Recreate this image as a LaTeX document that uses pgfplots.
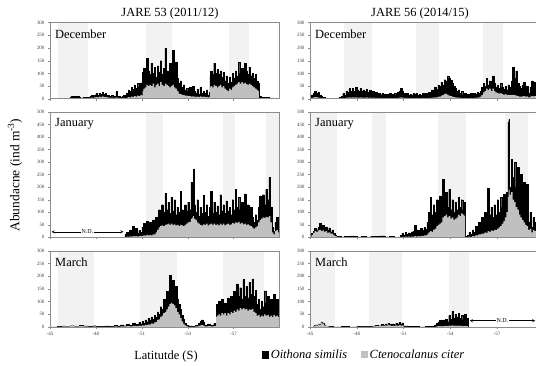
\documentclass[border=0pt]{standalone}
\usepackage{fontspec}
\setmainfont{Liberation Serif}
\usepackage{pgfplots}
\usepackage{pgfplotstable}
\pgfplotsset{compat=1.18}
\definecolor{band}{HTML}{F2F2F2}
\definecolor{cgray}{HTML}{C0C0C0}
\definecolor{frame}{HTML}{8C8C8C}

% columns: latitude (S), total abundance (O. similis + C. citer), C. citer
\pgfplotstableread{
x t g
45.0 0 0
46.2 0 0
46.3 4 0
46.4 8 1
46.5 6 1
46.6 10 2
46.7 7 1
46.8 9 2
46.9 4 0
47.0 3 0
47.2 5 1
47.4 4 1
47.6 10 3
47.7 12 4
47.8 8 3
47.9 15 5
48.0 20 6
48.1 14 5
48.2 22 8
48.3 18 6
48.4 25 9
48.5 16 6
48.6 20 7
48.7 12 5
48.8 14 4
48.9 10 3
49.0 12 4
49.1 8 3
49.2 10 3
49.3 28 5
49.4 8 3
49.5 10 3
49.6 6 2
49.7 9 3
49.8 12 3
49.9 8 2
50.0 20 4
50.1 35 6
50.2 28 5
50.3 45 8
50.4 38 7
50.5 55 10
50.6 42 8
50.7 60 12
50.8 48 10
50.9 62 14
51.0 40 12
51.05 105 30
51.1 120 40
51.2 90 45
51.3 160 55
51.4 110 50
51.5 95 55
51.6 140 50
51.7 100 60
51.8 125 45
51.9 85 55
52.0 130 60
52.1 105 50
52.2 150 65
52.3 95 55
52.4 120 50
52.5 200 60
52.6 110 55
52.7 90 50
52.8 140 45
52.9 100 50
53.0 190 55
53.1 120 45
53.2 145 40
53.3 80 30
53.4 60 20
53.5 70 18
53.6 45 15
53.7 55 14
53.8 35 12
53.9 40 12
54.0 30 10
54.1 45 10
54.2 25 8
54.3 50 9
54.4 30 8
54.5 20 7
54.6 38 8
54.7 18 6
54.8 45 9
54.9 22 7
55.0 30 8
55.1 20 6
55.2 35 7
55.3 15 5
55.4 25 6
55.45 90 45
55.5 110 50
55.6 95 45
55.7 140 55
55.8 100 50
55.9 115 45
56.0 95 50
56.1 110 55
56.2 85 45
56.3 105 50
56.4 70 40
56.5 90 35
56.6 60 30
56.7 85 40
56.8 65 35
56.9 100 45
57.0 80 50
57.1 110 55
57.2 90 60
57.3 143 65
57.4 100 60
57.5 120 65
57.6 95 60
57.7 140 62
57.8 110 58
57.9 95 55
58.0 125 60
58.1 90 55
58.2 100 50
58.3 80 45
58.4 95 40
58.5 70 35
58.6 60 30
58.65 8 2
58.8 5 1
59.0 4 1
59.3 3 0
59.6 2 0
60.0 2 0
}\dA

\pgfplotstableread{
x t g
45.0 5 1
45.1 15 3
45.2 22 5
45.3 28 6
45.4 20 5
45.5 25 4
45.6 12 3
45.7 8 2
45.8 4 1
46.0 2 0
46.3 1 0
46.6 2 0
46.9 4 1
47.0 8 2
47.1 20 3
47.2 12 2
47.3 30 4
47.4 25 4
47.5 40 5
47.6 30 4
47.7 42 5
47.8 28 4
47.9 45 5
48.0 35 4
48.1 30 4
48.2 40 5
48.3 28 4
48.4 35 4
48.5 30 4
48.6 38 5
48.7 25 3
48.8 32 4
48.9 22 3
49.0 30 4
49.1 20 3
49.2 25 3
49.3 18 3
49.4 22 3
49.5 15 2
49.6 20 3
49.7 16 2
49.8 12 2
49.9 18 3
50.0 14 2
50.1 20 3
50.2 12 2
50.3 16 2
50.4 22 3
50.5 14 2
50.6 25 3
50.7 30 4
50.8 40 5
50.9 28 4
51.0 20 3
51.1 15 3
51.2 22 3
51.3 14 2
51.4 18 3
51.5 12 2
51.6 20 3
51.7 16 2
51.8 22 3
51.9 12 2
52.0 18 2
52.1 14 2
52.2 20 3
52.3 15 2
52.4 22 3
52.5 16 2
52.6 25 3
52.7 20 3
52.8 35 4
52.9 28 4
53.0 45 5
53.1 38 5
53.2 55 8
53.3 48 8
53.4 65 12
53.5 55 15
53.6 75 18
53.7 70 20
53.8 88 15
53.9 80 12
54.0 72 10
54.1 60 8
54.2 50 6
54.3 40 5
54.4 30 4
54.5 35 4
54.6 22 3
54.7 28 3
54.8 15 2
54.9 20 3
55.0 10 2
55.1 18 2
55.2 12 2
55.3 20 3
55.4 14 2
55.5 22 3
55.6 18 3
55.7 25 4
55.8 20 5
55.9 30 8
56.0 45 15
56.1 60 25
56.2 50 30
56.3 80 40
56.4 55 35
56.5 70 40
56.6 50 30
56.7 90 40
56.8 60 30
56.9 45 25
57.0 55 22
57.1 40 20
57.2 60 22
57.3 45 18
57.4 38 15
57.5 50 18
57.6 35 14
57.7 55 15
57.8 45 14
57.9 70 15
58.0 125 15
58.1 80 14
58.2 110 12
58.3 60 10
58.4 50 8
58.5 40 8
58.6 55 9
58.7 65 10
58.8 35 8
58.9 50 9
59.0 20 5
59.1 45 8
59.2 70 10
59.3 55 9
59.4 65 10
59.5 50 8
}\dB

\pgfplotstableread{
x t g
49.85 0 0
49.9 12 2
50.0 20 3
50.1 10 2
50.2 30 4
50.3 18 3
50.4 45 5
50.5 22 4
50.6 35 5
50.7 15 3
50.8 28 5
50.9 20 5
51.0 40 6
51.1 55 8
51.2 35 7
51.3 65 10
51.4 45 8
51.5 60 10
51.6 40 8
51.7 70 12
51.8 50 12
51.9 80 20
52.0 65 30
52.1 110 40
52.2 90 45
52.3 130 48
52.4 100 45
52.5 176 50
52.6 110 52
52.7 140 55
52.8 95 50
52.9 160 55
53.0 105 50
53.1 150 52
53.2 90 48
53.3 120 50
53.4 100 45
53.5 183 50
53.6 110 48
53.7 95 45
53.8 130 50
53.9 105 55
54.0 140 60
54.1 110 62
54.2 220 75
54.3 120 80
54.35 273 85
54.4 130 75
54.5 100 70
54.6 150 60
54.7 85 55
54.8 120 50
54.9 95 48
55.0 167 52
55.1 100 50
55.2 130 55
55.3 85 48
55.4 120 52
55.5 183 55
55.6 95 50
55.7 140 55
55.8 100 50
55.9 125 52
56.0 90 48
56.1 170 55
56.2 105 50
56.3 130 55
56.4 95 48
56.5 145 52
56.6 105 55
56.7 120 50
56.8 90 52
56.9 150 58
57.0 110 55
57.1 190 60
57.2 120 58
57.3 160 62
57.4 110 55
57.5 140 58
57.6 95 52
57.7 173 55
57.8 115 50
57.9 130 52
58.0 90 48
58.1 120 45
58.2 80 40
58.3 60 35
58.4 90 40
58.5 70 45
58.6 120 60
58.7 165 70
58.8 140 75
58.9 170 80
59.0 130 78
59.1 190 82
59.2 150 80
59.3 240 85
59.4 120 60
59.5 40 20
59.6 25 12
59.7 60 25
59.8 80 30
59.9 40 20
60.0 70 25
}\dC

\pgfplotstableread{
x t g
45.0 5 3
45.1 15 10
45.2 25 18
45.3 35 25
45.4 30 22
45.5 40 28
45.6 56 30
45.7 35 25
45.8 48 28
45.9 30 22
46.0 42 25
46.1 28 18
46.2 38 20
46.3 22 15
46.4 30 15
46.5 15 8
46.6 10 5
46.7 5 2
46.8 3 1
47.0 2 0
47.2 5 1
47.4 3 0
47.6 6 1
47.8 4 1
48.0 2 0
48.3 4 1
48.6 2 0
48.9 5 1
49.2 3 0
49.5 6 1
49.8 2 0
50.1 3 0
50.4 1 0
50.7 2 0
50.8 8 1
50.9 15 2
51.0 10 2
51.1 20 3
51.2 12 2
51.3 18 3
51.4 14 2
51.5 22 3
51.6 25 3
51.7 47 5
51.8 20 3
51.9 30 5
52.0 22 4
52.1 35 6
52.2 28 5
52.3 40 8
52.4 32 8
52.5 60 12
52.6 100 20
52.7 160 25
52.8 90 22
52.9 130 30
53.0 100 35
53.1 150 45
53.2 110 50
53.3 165 55
53.4 130 60
53.5 230 80
53.6 140 85
53.7 180 90
53.8 120 80
53.9 190 85
54.0 110 75
54.1 150 80
54.2 100 70
54.3 140 75
54.4 110 80
54.5 160 90
54.6 120 85
54.7 150 95
54.8 110 90
54.9 140 85
54.95 5 1
55.1 8 2
55.2 20 3
55.3 12 2
55.4 30 5
55.5 20 4
55.6 45 8
55.7 35 8
55.8 60 12
55.9 50 12
56.0 80 15
56.1 60 15
56.2 100 20
56.3 70 18
56.4 196 25
56.5 90 22
56.6 120 28
56.7 80 25
56.8 130 30
56.9 90 30
57.0 150 35
57.1 100 40
57.2 160 45
57.3 120 55
57.4 172 65
57.5 130 80
57.6 180 100
57.7 460 160
57.75 470 190
57.8 200 170
57.9 310 180
58.0 240 150
58.1 300 140
58.2 200 120
58.3 280 110
58.4 150 90
58.5 250 80
58.6 180 70
58.7 220 60
58.8 110 50
58.9 212 45
59.0 60 30
59.1 100 35
59.2 40 20
59.3 80 30
59.4 60 25
59.5 70 25
}\dD

\pgfplotstableread{
x t g
45.0 1 0
45.5 2 1
45.8 4 2
46.0 3 2
46.3 5 3
46.6 3 2
46.9 6 3
47.2 4 2
47.5 3 1
47.8 5 2
48.0 2 1
48.3 3 1
48.6 4 1
48.9 3 1
49.2 6 2
49.4 4 1
49.6 8 2
49.8 5 2
50.0 10 3
50.2 7 2
50.4 14 4
50.6 10 3
50.8 18 5
50.9 12 4
51.0 22 6
51.1 15 5
51.2 28 8
51.3 20 7
51.4 35 10
51.5 25 9
51.6 40 14
51.7 30 12
51.8 45 18
51.9 38 20
52.0 60 28
52.1 50 30
52.2 80 40
52.3 70 45
52.4 110 55
52.5 95 60
52.6 140 70
52.7 120 80
52.8 205 90
52.9 150 95
53.0 185 90
53.1 140 85
53.2 160 75
53.3 110 60
53.4 90 50
53.5 70 35
53.6 45 22
53.7 30 12
53.8 15 6
53.9 8 3
54.0 4 1
54.3 3 1
54.5 6 2
54.7 15 4
54.8 22 6
54.9 28 7
55.0 18 5
55.1 8 2
55.3 12 3
55.5 6 2
55.7 14 3
55.8 10 3
55.85 90 40
55.9 70 45
56.0 100 50
56.1 75 45
56.2 110 55
56.3 80 50
56.4 95 55
56.5 70 45
56.6 115 55
56.7 85 50
56.8 120 60
56.9 90 55
57.0 140 65
57.1 100 60
57.2 170 70
57.3 120 65
57.4 155 75
57.5 110 70
57.6 187 75
57.7 120 70
57.8 160 72
57.9 115 65
58.0 175 70
58.1 130 68
58.2 190 72
58.3 120 60
58.4 145 55
58.5 90 45
58.6 110 48
58.7 70 40
58.8 100 45
58.9 80 42
59.0 143 50
59.1 95 45
59.2 120 48
59.3 70 40
59.4 110 45
59.5 80 40
59.6 130 48
59.7 90 42
59.8 110 45
59.9 75 40
60.0 100 45
}\dE

\pgfplotstableread{
x t g
45.0 0 0
45.2 3 2
45.3 8 6
45.4 6 5
45.5 12 10
45.6 10 8
45.7 20 17
45.8 15 13
45.9 8 6
46.0 4 3
46.2 2 1
46.5 1 0
47.0 2 0
47.5 1 0
48.0 3 1
48.5 2 1
49.0 4 2
49.2 6 3
49.4 5 3
49.6 10 5
49.7 7 4
49.8 12 6
49.9 8 5
50.0 15 8
50.1 10 6
50.2 6 3
50.3 12 5
50.4 8 4
50.5 14 6
50.6 10 4
50.7 18 7
50.8 12 5
50.9 16 6
51.0 4 1
51.3 2 0
51.6 3 0
52.0 1 0
52.4 2 0
52.8 3 0
53.0 8 1
53.1 15 2
53.2 20 3
53.3 25 3
53.4 18 2
53.5 28 3
53.6 22 3
53.7 30 4
53.8 20 3
53.9 45 5
54.0 30 4
54.1 61 6
54.2 35 4
54.3 50 5
54.4 40 4
54.5 55 5
54.6 35 4
54.7 45 4
54.8 30 3
54.9 50 4
55.0 25 3
55.1 35 3
55.15 0 0
}\dF

\pgfplotsset{
  panel/.style={scale only axis, ymin=0, xmin=45, axis on top,
    axis line style={frame, line width=0.6bp},
    tick style={frame, line width=0.4bp},
    tick align=outside, major tick length=2bp,
    xtick pos=bottom, ytick pos=left,
    xtick={45,48,51,54,57}, xticklabels={},
    /pgf/number format/assume math mode=true,
    tick label style={font=\fontsize{5}{6}\selectfont, text=black!75},
  },
  leftcol/.style={at={(50bp,#1)}, anchor=south west, width=229.5bp, xmax=60},
  rightcol/.style={at={(310bp,#1)}, anchor=south west, width=226bp, xmax=59.5},
  short/.style={height=76bp, ymax=300, ytick={0,50,...,300}},
  tall/.style={height=125.3bp, ymax=500, ytick={0,50,...,500}},
  labx/.style={xticklabels={-45,-48,-51,-54,-57}},
  tot/.style={const plot, fill=black, draw=black, line width=0.4bp},
  cit/.style={const plot, fill=cgray, draw=none},
}
\newcommand{\mlabel}[1]{\node[anchor=north west, inner sep=0pt, xshift=5bp, yshift=-6.5bp, font=\fontsize{12.5}{14}\selectfont] at (rel axis cs:0,1) {#1};}
\newcommand{\band}[3]{\fill[band] (axis cs:#1,0) rectangle (axis cs:#2,#3);}

\begin{document}
\begin{tikzpicture}
\useasboundingbox (0,0) rectangle (536bp,-366bp);

% ---------- left column: JARE 53 ----------
\begin{axis}[panel, leftcol=-98.7bp, short]
\band{45.5}{47.5}{300}\band{51.3}{53.0}{300}\band{56.7}{58.0}{300}
\addplot[tot] table[x index=0, y index=1]{\dA} \closedcycle;
\addplot[cit] table[x index=0, y index=2]{\dA} \closedcycle;
\mlabel{December}
\end{axis}

\begin{axis}[panel, leftcol=-237.3bp, tall]
\band{51.3}{52.4}{500}\band{56.3}{57.1}{500}\band{59.1}{60}{500}
\addplot[tot] table[x index=0, y index=1]{\dC} \closedcycle;
\addplot[cit] table[x index=0, y index=2]{\dC} \closedcycle;
\mlabel{January}
\draw[<->, >=stealth, line width=0.4bp] (axis cs:45.1,22) -- (axis cs:49.8,22)
  node[midway, fill=white, inner sep=1pt, font=\fontsize{6}{7}\selectfont] {N.D.};
\end{axis}

\begin{axis}[panel, leftcol=-327bp, short, labx]
\band{45.5}{47.9}{300}\band{50.9}{53.3}{300}\band{56.3}{59.0}{300}
\addplot[tot] table[x index=0, y index=1]{\dE} \closedcycle;
\addplot[cit] table[x index=0, y index=2]{\dE} \closedcycle;
\mlabel{March}
\end{axis}

% ---------- right column: JARE 56 ----------
\begin{axis}[panel, rightcol=-98.7bp, short]
\band{47.2}{49.0}{300}\band{51.8}{53.3}{300}\band{56.1}{57.4}{300}
\addplot[tot] table[x index=0, y index=1]{\dB} \closedcycle;
\addplot[cit] table[x index=0, y index=2]{\dB} \closedcycle;
\mlabel{December}
\end{axis}

\begin{axis}[panel, rightcol=-237.3bp, tall]
\band{45}{46.7}{500}\band{49.0}{49.9}{500}\band{53.2}{55.0}{500}\band{57.5}{59.0}{500}
\addplot[tot] table[x index=0, y index=1]{\dD} \closedcycle;
\addplot[cit] table[x index=0, y index=2]{\dD} \closedcycle;
\mlabel{January}
\end{axis}

\begin{axis}[panel, rightcol=-327bp, short, labx,
  legend columns=2,
  legend style={at={(0.239,-0.372)}, anchor=center, draw=none, fill=none,
    font=\fontsize{12.5}{14}\selectfont, inner sep=0pt,
    /tikz/every even column/.append style={column sep=12bp}},
  legend image code/.code={\fill[#1] (0bp,-2.5bp) rectangle (6.5bp,4bp);}]
\band{45}{46.6}{300}\band{48.8}{50.9}{300}\band{53.9}{55.2}{300}
\addplot[tot] table[x index=0, y index=1]{\dF} \closedcycle;
\addplot[cit] table[x index=0, y index=2]{\dF} \closedcycle;
\legend{\textit{Oithona similis}, \textit{Ctenocalanus citer}}
\mlabel{March}
\draw[<->, >=stealth, line width=0.4bp] (axis cs:55.25,25) -- (axis cs:59.45,25)
  node[midway, fill=white, inner sep=1pt, font=\fontsize{6}{7}\selectfont] {N.D.};
\end{axis}

% ---------- titles and axis labels ----------
\node[anchor=base, font=\fontsize{12.5}{14}\selectfont] at (170bp,-16.3bp) {JARE 53 (2011/12)};
\node[anchor=base, font=\fontsize{12.5}{14}\selectfont] at (420bp,-16.3bp) {JARE 56 (2014/15)};
\node[anchor=base, font=\fontsize{12.5}{14}\selectfont] at (166bp,-359bp) {Latitutde (S)};
\node[rotate=90, font=\fontsize{13.5}{15}\selectfont] at (15bp,-175bp) {Abundacne (ind m\textsuperscript{-3})};
\end{tikzpicture}
\end{document}
